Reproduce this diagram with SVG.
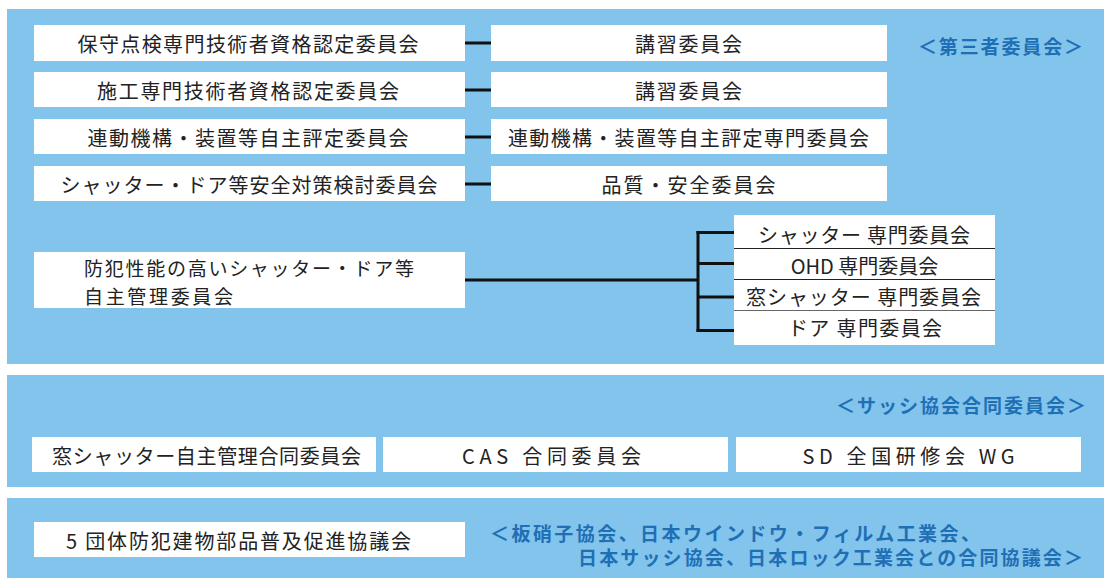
<svg xmlns="http://www.w3.org/2000/svg" width="1106" height="578" viewBox="0 0 1106 578">
<style>
.panel{fill:#82c4ec}
.box{fill:#ffffff}
.t{font-family:"Noto Sans CJK JP","Noto Sans",sans-serif;font-size:20px;fill:#222;dominant-baseline:central}
.m{text-anchor:middle}
.two{font-size:19px}
.lbl{font-family:"Noto Sans CJK JP","Noto Sans",sans-serif;font-size:19px;font-weight:bold;fill:#1f6fb5;dominant-baseline:central}
.c{stroke:#111;stroke-width:3;fill:none}
.div1{stroke:#222;stroke-width:1.2}
.div2{stroke:#666;stroke-width:1.2}
</style>
<rect class="panel" x="7" y="9" width="1097" height="355"/>
<rect class="panel" x="7" y="375" width="1097" height="112"/>
<rect class="panel" x="7" y="498" width="1097" height="80"/>

<g id="connectors">
<line class="c" x1="465" y1="43" x2="491" y2="43"/>
<line class="c" x1="465" y1="90" x2="491" y2="90"/>
<line class="c" x1="465" y1="137" x2="491" y2="137"/>
<line class="c" x1="465" y1="184" x2="491" y2="184"/>
<line class="c" x1="465" y1="280" x2="698" y2="280"/>
<line class="c" x1="698" y1="231" x2="698" y2="332"/>
<line class="c" x1="696.5" y1="232.5" x2="734" y2="232.5"/>
<line class="c" x1="698" y1="263.5" x2="734" y2="263.5"/>
<line class="c" x1="698" y1="297" x2="734" y2="297"/>
<line class="c" x1="696.5" y1="330.5" x2="734" y2="330.5"/>
</g>

<g id="n1"><rect class="box" x="34" y="25" width="431" height="36"/><text class="t m" x="248" y="43" textLength="341">保守点検専門技術者資格認定委員会</text></g>
<g id="n2"><rect class="box" x="34" y="72" width="431" height="35"/><text class="t m" x="248" y="90" textLength="302">施工専門技術者資格認定委員会</text></g>
<g id="n3"><rect class="box" x="34" y="119" width="431" height="35"/><text class="t m" x="248" y="137" textLength="321">連動機構・装置等自主評定委員会</text></g>
<g id="n4"><rect class="box" x="34" y="166" width="431" height="35"/><text class="t m" x="249" y="184" textLength="377">シャッター・ドア等安全対策検討委員会</text></g>

<g id="r1"><rect class="box" x="491" y="25" width="396" height="36"/><text class="t m" x="688.5" y="43" textLength="107">講習委員会</text></g>
<g id="r2"><rect class="box" x="491" y="72" width="396" height="35"/><text class="t m" x="688.5" y="90" textLength="107">講習委員会</text></g>
<g id="r3"><rect class="box" x="491" y="119" width="396" height="35"/><text class="t m" x="688.5" y="137" textLength="361">連動機構・装置等自主評定専門委員会</text></g>
<g id="r4"><rect class="box" x="491" y="166" width="396" height="35"/><text class="t m" x="688.5" y="184" textLength="174">品質・安全委員会</text></g>

<g id="label1"><text class="lbl m" x="1000.5" y="45" textLength="165">＜第三者委員会＞</text></g>

<g id="n5"><rect class="box" x="34" y="252" width="431" height="56"/>
<text class="t two" x="84" y="267" textLength="330">防犯性能の高いシャッター・ドア等</text>
<text class="t two" x="84" y="295" textLength="149">自主管理委員会</text></g>

<g id="sub"><rect class="box" x="734" y="215" width="261" height="130"/>
<line class="div1" x1="734" y1="248.5" x2="995" y2="248.5"/>
<line class="div1" x1="734" y1="279.5" x2="995" y2="279.5"/>
<line class="div2" x1="734" y1="310.5" x2="995" y2="310.5"/>
</g>
<g id="s1"><text class="t m" x="864" y="234" textLength="212">シャッター 専門委員会</text></g>
<g id="s2"><text class="t m" x="864.5" y="265.5">OHD 専門委員会</text></g>
<g id="s3"><text class="t m" x="863.5" y="296.5" textLength="235">窓シャッター 専門委員会</text></g>
<g id="s4"><text class="t m" x="865" y="327" textLength="154">ドア 専門委員会</text></g>

<g id="label2"><text class="lbl m" x="961" y="404" textLength="250">＜サッシ協会合同委員会＞</text></g>
<g id="b1"><rect class="box" x="32" y="437" width="344" height="35"/><text class="t m" x="206.5" y="455" textLength="309">窓シャッター自主管理合同委員会</text></g>
<g id="b2"><rect class="box" x="383" y="437" width="345" height="35"/><text class="t m" x="551.5" y="455" textLength="179">CAS 合同委員会</text></g>
<g id="b3"><rect class="box" x="736" y="437" width="345" height="35"/><text class="t m" x="908.5" y="455" textLength="212">SD 全国研修会 WG</text></g>

<g id="b4"><rect class="box" x="34" y="522" width="431" height="35"/><text class="t m" x="238.5" y="540" textLength="345">5 団体防犯建物部品普及促進協議会</text></g>
<g id="label3"><text class="lbl" x="490" y="532" textLength="490">＜板硝子協会、日本ウインドウ・フィルム工業会、</text>
<text class="lbl" x="578" y="556" textLength="505">日本サッシ協会、日本ロック工業会との合同協議会＞</text></g>
</svg>
